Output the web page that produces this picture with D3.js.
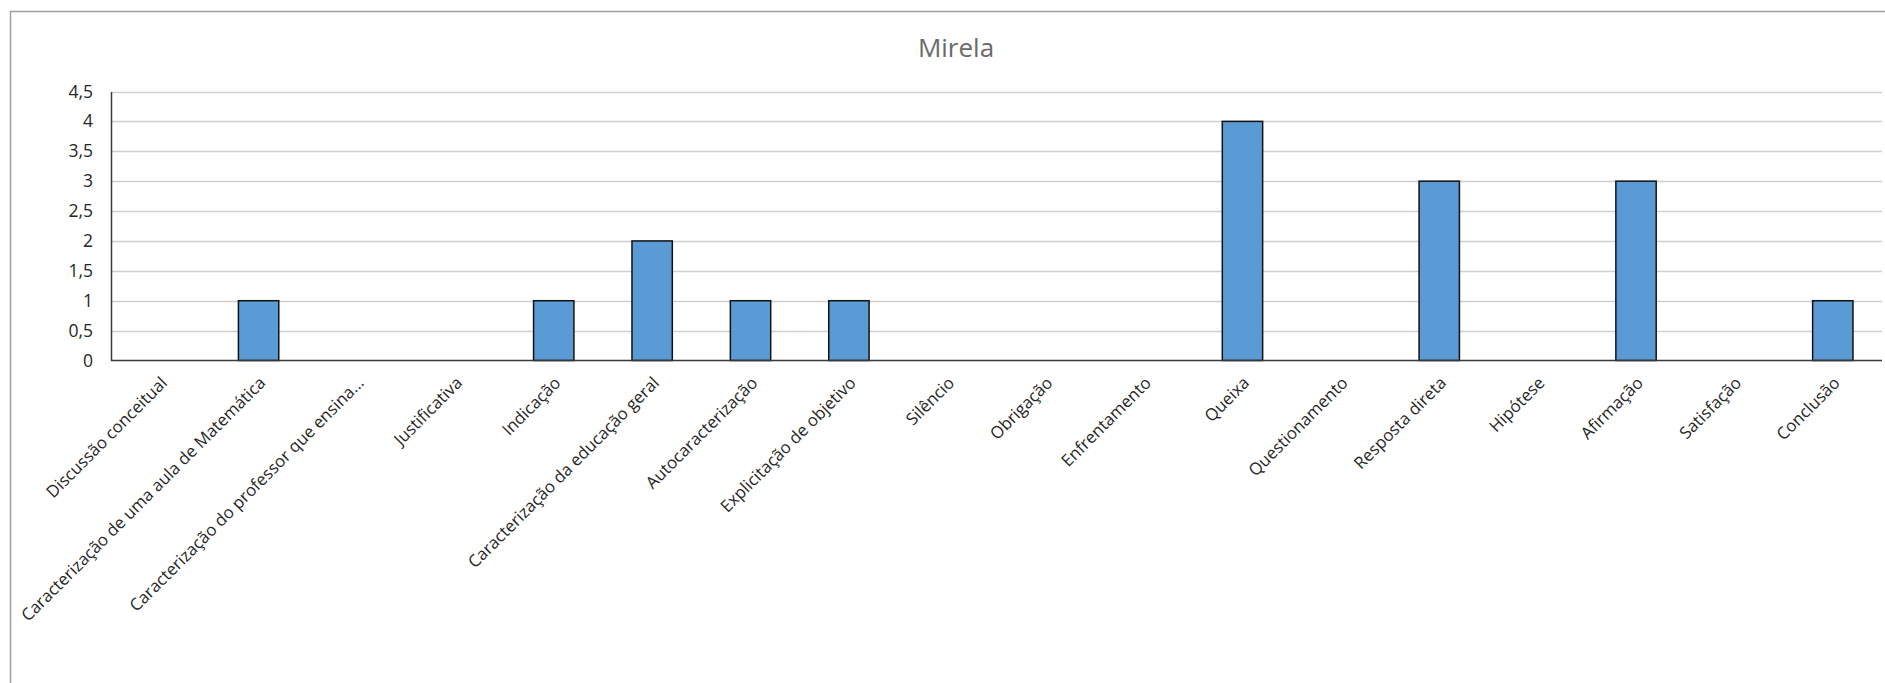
<!DOCTYPE html>
<html>
<head>
<meta charset="utf-8">
<script src="https://cdn.jsdelivr.net/npm/d3@7"></script>
<style>
  html, body { margin: 0; padding: 0; background: #fff; }
  svg { display: block; }
  text { font-family: "Open Sans", "Noto Sans", sans-serif; }
</style>
</head>
<body>
<svg id="chart" width="1885" height="683"></svg>
<script>
const title = "Mirela";
const categories = [
  "Discussão conceitual",
  "Caracterização de uma aula de Matemática",
  "Caracterização do professor que ensina...",
  "Justificativa",
  "Indicação",
  "Caracterização da educação geral",
  "Autocaracterização",
  "Explicitação de objetivo",
  "Silêncio",
  "Obrigação",
  "Enfrentamento",
  "Queixa",
  "Questionamento",
  "Resposta direta",
  "Hipótese",
  "Afirmação",
  "Satisfação",
  "Conclusão"
];
const values = [0, 1, 0, 0, 1, 2, 1, 1, 0, 0, 0, 4, 0, 3, 0, 3, 0, 1];
const yTicks = [0, 0.5, 1, 1.5, 2, 2.5, 3, 3.5, 4, 4.5];

const svg = d3.select("#chart");
const plot = { left: 111, right: 1882, top: 91.5, bottom: 360.5 };

// chart border
svg.append("rect")
  .attr("x", 10.5).attr("y", 11.5)
  .attr("width", 1900).attr("height", 700)
  .attr("fill", "#fff").attr("stroke", "#a0a0a0").attr("stroke-width", 1.5);

const x = d3.scaleBand()
  .domain(categories)
  .range([plot.left, plot.right])
  .paddingInner(0.59)
  .paddingOuter(0.295);

const y = d3.scaleLinear()
  .domain([0, 4.5])
  .range([plot.bottom, plot.top]);

const fmt = v => String(v).replace(".", ",");

// gridlines
svg.append("g")
  .selectAll("line")
  .data(yTicks.filter(t => t > 0))
  .join("line")
  .attr("x1", plot.left).attr("x2", plot.right)
  .attr("y1", d => Math.round(y(d)) + 0.5).attr("y2", d => Math.round(y(d)) + 0.5)
  .attr("stroke", "#cfcfcf").attr("stroke-width", 1.3);

// y axis via d3.axisLeft
const yAxis = d3.axisLeft(y)
  .tickValues(yTicks)
  .tickFormat(fmt)
  .tickSize(0)
  .tickPadding(18);
const gy = svg.append("g")
  .attr("transform", `translate(${plot.left},0)`)
  .call(yAxis);
gy.select(".domain").attr("stroke", "#3a3a3a").attr("stroke-width", 1.5);
gy.selectAll("text")
  .attr("font-size", 17.5)
  .attr("fill", "#262626")
  .attr("font-family", "'Open Sans', sans-serif");

// bars
svg.append("g")
  .selectAll("rect")
  .data(categories.map((c, i) => ({ c, v: values[i] })).filter(d => d.v > 0))
  .join("rect")
  .attr("x", d => x(d.c))
  .attr("y", d => y(d.v))
  .attr("width", x.bandwidth())
  .attr("height", d => y(0) - y(d.v))
  .attr("fill", "#5b9bd5")
  .attr("stroke", "#111")
  .attr("stroke-width", 1.5);

// x axis baseline
svg.append("line")
  .attr("x1", plot.left).attr("x2", plot.right)
  .attr("y1", y(0)).attr("y2", y(0))
  .attr("stroke", "#3a3a3a").attr("stroke-width", 1.5);

// x labels, rotated
svg.append("g")
  .selectAll("text")
  .data(categories)
  .join("text")
  .attr("transform", d => {
    const cx = x(d) + x.bandwidth() / 2 + 8;
    return `translate(${cx},384) rotate(-45)`;
  })
  .attr("text-anchor", "end")
  .attr("font-size", 16.8)
  .attr("fill", "#262626")
  .text(d => d);

// title
svg.append("text")
  .attr("x", 956).attr("y", 57)
  .attr("text-anchor", "middle")
  .attr("font-size", 26)
  .attr("fill", "#6a6a6a")
  .text(title);
</script>
</body>
</html>
